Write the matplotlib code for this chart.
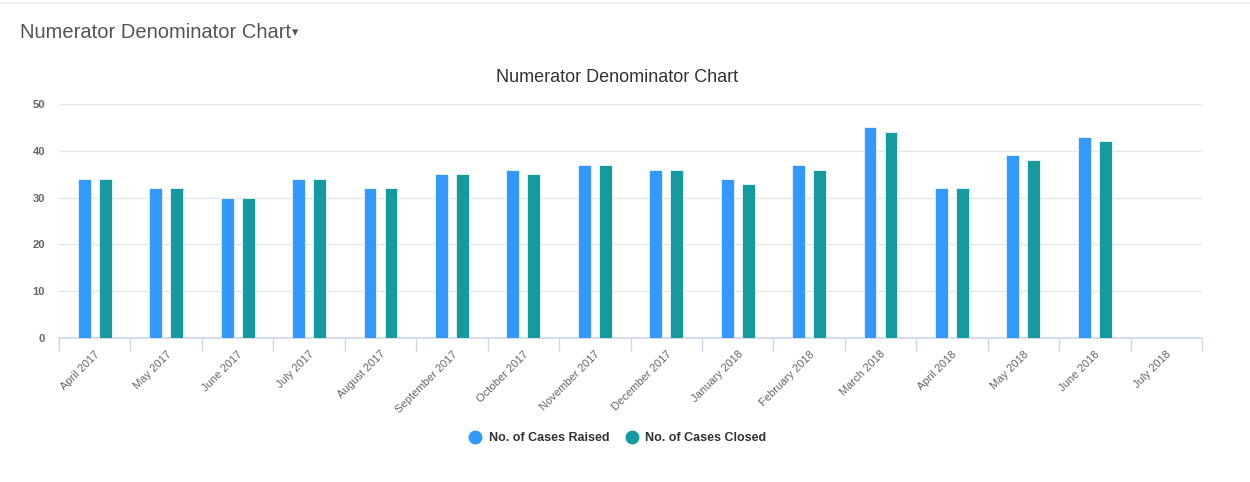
import numpy as np
import matplotlib
matplotlib.use("Agg")
import matplotlib.pyplot as plt
from matplotlib.lines import Line2D

plt.rcParams['font.family'] = ['Liberation Sans', 'DejaVu Sans']

months = ['April 2017', 'May 2017', 'June 2017', 'July 2017', 'August 2017',
          'September 2017', 'October 2017', 'November 2017', 'December 2017',
          'January 2018', 'February 2018', 'March 2018', 'April 2018',
          'May 2018', 'June 2018', 'July 2018']
raised = [34, 32, 30, 34, 32, 35, 36, 37, 36, 34, 37, 45, 32, 39, 43, np.nan]
closed = [34, 32, 30, 34, 32, 35, 35, 37, 36, 33, 36, 44, 32, 38, 42, np.nan]
y_ticks = [0, 10, 20, 30, 40, 50]

blue = '#3399FF'
teal = '#149A9F'

fig = plt.figure(figsize=(12.5, 4.82), dpi=100)
ax = fig.add_axes([0.0472, 0.2988, 0.9144, 0.4854])

x = np.arange(len(months))
w = 0.18
off = 0.147
ax.bar(x - off, raised, width=w, color=blue, edgecolor='white', linewidth=0.5, zorder=3)
ax.bar(x + off, closed, width=w, color=teal, edgecolor='white', linewidth=0.5, zorder=3)

ax.set_xlim(-0.5, len(months) - 0.5)
ax.set_ylim(0, 50)
ax.set_yticks(y_ticks)
ax.set_yticklabels([str(v) for v in y_ticks], fontsize=8, color='#666666', fontweight='bold')
ax.yaxis.grid(True, color='#e6e6e6', linewidth=1, zorder=0)
ax.tick_params(axis='y', length=0, pad=10)

# category ticks on boundaries, labels at centers
ax.set_xticks(np.arange(len(months) + 1) - 0.5)
ax.set_xticklabels([])
ax.tick_params(axis='x', which='major', length=9, color='#ccd6eb', width=1)
ax.set_xticks(x, minor=True)
ax.set_xticklabels(months, minor=True, rotation=45, ha='right', rotation_mode='anchor',
                   fontsize=8, color='#666666')
ax.tick_params(axis='x', which='minor', length=0, pad=8)

for s in ['top', 'right', 'left']:
    ax.spines[s].set_visible(False)
ax.spines['bottom'].set_color('#ccd6eb')
ax.spines['bottom'].set_linewidth(1.2)

fig.text(617 / 1250, 1 - 77 / 482, 'Numerator Denominator Chart', fontsize=13,
         color='#333333', ha='center', va='center')

fig.text(20 / 1250, 1 - 33 / 482, 'Numerator Denominator Chart', fontsize=14.5,
         color='#555555', va='center', ha='left')
fig.text(292 / 1250, 1 - 33 / 482, '\u25BE', fontsize=9, color='#555555',
         va='center', ha='left', family='DejaVu Sans')
fig.add_artist(Line2D([0, 1], [1 - 3 / 482, 1 - 3 / 482], color='#f0f0f0', linewidth=1.5,
                      transform=fig.transFigure))

handles = [Line2D([], [], marker='o', linestyle='', markersize=9, color=blue),
           Line2D([], [], marker='o', linestyle='', markersize=9, color=teal)]
leg = fig.legend(handles, ['No. of Cases Raised', 'No. of Cases Closed'],
                 loc='center', bbox_to_anchor=(617 / 1250, 1 - 438 / 482), ncol=2,
                 frameon=False, fontsize=9, handletextpad=0.5, columnspacing=1.2,
                 handlelength=1.2)
for t in leg.get_texts():
    t.set_color('#333333')
    t.set_fontweight('bold')

fig.savefig('out.png', dpi=100, facecolor='white')
